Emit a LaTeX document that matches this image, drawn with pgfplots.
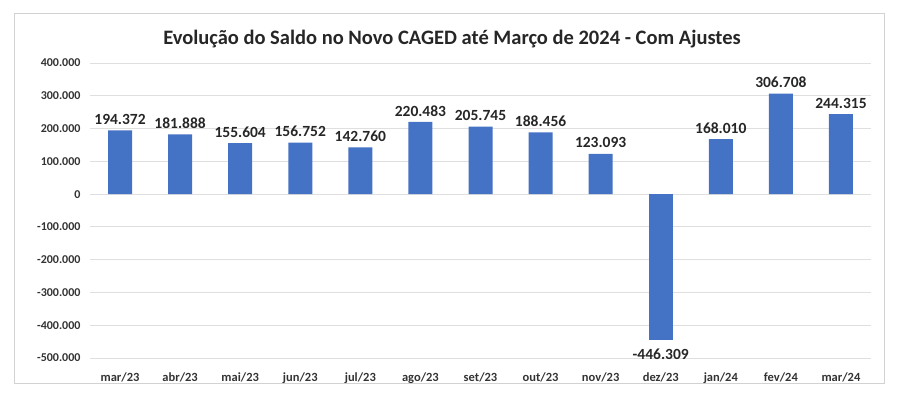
\documentclass[border=0pt]{standalone}
\usepackage{pgfplots}
\pgfplotsset{compat=1.18}
\usepackage{fontspec}
\setmainfont{Carlito}
\definecolor{barblue}{HTML}{4472C4}
\pgfplotstableread{
x y lab
0 194372 194.372
1 181888 181.888
2 155604 155.604
3 156752 156.752
4 142760 142.760
5 220483 220.483
6 205745 205.745
7 188456 188.456
8 123093 123.093
10 168010 168.010
11 306708 306.708
12 244315 244.315
}\postable
\pgfplotstableread{
x y lab
9 -446309 -446.309
}\negtable
\begin{document}
\begin{tikzpicture}[x=1pt,y=1pt]
\useasboundingbox (-90,-39) rectangle (808,358);
\draw[gray!35, line width=0.8pt] (-76,-25) rectangle (794,345);
\node[font=\bfseries\fontsize{20.5}{22}\selectfont, text=black!85] at (362,319) {Evolução do Saldo no Novo CAGED até Março de 2024 - Com Ajustes};
\begin{axis}[
  at={(0pt,0pt)}, anchor=south west,
  scale only axis, width=781pt, height=295pt,
  ybar, bar width=24pt, bar shift=0pt,
  xmin=-0.5, xmax=12.5, ymin=-500000, ymax=400000,
  enlargelimits=false, clip=false, scaled y ticks=false,
  axis line style={draw=none}, major tick length=0pt,
  ymajorgrids, grid style={gray!25, line width=0.8pt},
  ytick={-500000,-400000,-300000,-200000,-100000,0,100000,200000,300000,400000},
  yticklabels={-500.000,-400.000,-300.000,-200.000,-100.000,0,100.000,200.000,300.000,400.000},
  xtick={0,...,12},
  xticklabels={mar/23,abr/23,mai/23,jun/23,jul/23,ago/23,set/23,out/23,nov/23,dez/23,jan/24,fev/24,mar/24},
  ticklabel style={font=\bfseries\fontsize{12}{14}\selectfont, text=black!80},
  xticklabel style={yshift=-11pt, font=\bfseries\fontsize{12.5}{14}\selectfont},
  yticklabel style={xshift=-6pt},
  point meta=explicit symbolic,
  nodes near coords={\pgfplotspointmeta},
  every node near coord/.append style={font=\bfseries\fontsize{15.5}{17}\selectfont, text=black!85, inner sep=5.5pt},
]
\addplot[fill=barblue, draw=none] table[x=x, y=y, meta=lab] {\postable};
\addplot[fill=barblue, draw=none, every node near coord/.append style={anchor=north, yshift=-3pt}] table[x=x, y=y, meta=lab] {\negtable};
\end{axis}
\end{tikzpicture}
\end{document}
